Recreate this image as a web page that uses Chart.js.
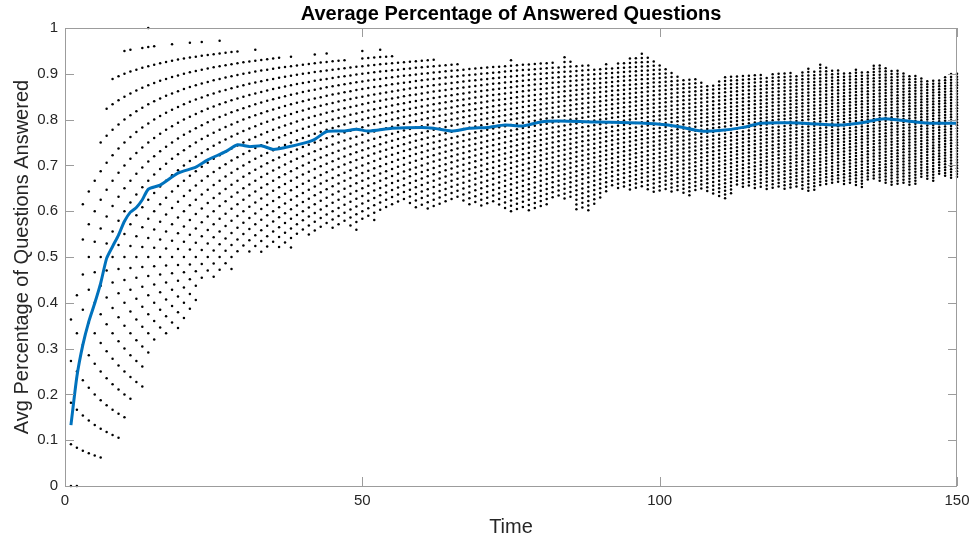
<!DOCTYPE html>
<html>
<head>
<meta charset="utf-8">
<title>Average Percentage of Answered Questions</title>
<script src="https://cdn.jsdelivr.net/npm/chart.js@4.4.0/dist/chart.umd.min.js"></script>
<style>
	html, body { margin: 0; padding: 0; background: #ffffff; }
	#answeredcanvas { display: block; }
</style>
</head>
<body>
<canvas id="answeredcanvas" width="976" height="542"></canvas>
<script>
// lowest and highest share answered at each time step t = 1..150
var lowEdge = [
	0, 0, 0.077, 0.071, 0.067, 0.0625, 0.118, 0.111, 0.105, 0.15,
	0.19, 0.227, 0.217, 0.292, 0.32, 0.346, 0.35, 0.357, 0.36, 0.366,
	0.39, 0.42, 0.456, 0.46, 0.47, 0.48, 0.486, 0.475, 0.5, 0.515,
	0.51, 0.52, 0.52, 0.523, 0.53, 0.523, 0.53, 0.521, 0.552, 0.55,
	0.555, 0.557, 0.56, 0.565, 0.565, 0.575, 0.581, 0.57, 0.559, 0.582,
	0.59, 0.581, 0.6, 0.61, 0.62, 0.625, 0.628, 0.62, 0.613, 0.613,
	0.605, 0.615, 0.62, 0.625, 0.627, 0.625, 0.62, 0.615, 0.619, 0.611,
	0.615, 0.617, 0.61, 0.605, 0.599, 0.605, 0.61, 0.607, 0.61, 0.607,
	0.615, 0.625, 0.63, 0.628, 0.632, 0.608, 0.605, 0.601, 0.62, 0.632,
	0.643, 0.657, 0.652, 0.652, 0.648, 0.65, 0.652, 0.648, 0.64, 0.643,
	0.645, 0.646, 0.646, 0.643, 0.639, 0.646, 0.646, 0.643, 0.638, 0.635,
	0.628, 0.639, 0.657, 0.655, 0.652, 0.65, 0.652, 0.65, 0.652, 0.652,
	0.652, 0.655, 0.652, 0.65, 0.648, 0.65, 0.655, 0.657, 0.66, 0.662,
	0.66, 0.662, 0.66, 0.656, 0.67, 0.668, 0.665, 0.663, 0.659, 0.662,
	0.66, 0.66, 0.661, 0.675, 0.672, 0.667, 0.68, 0.677, 0.672, 0.676
];
var highEdge = [
	0.364, 0.417, 0.615, 0.643, 0.667, 0.75, 0.824, 0.889, 0.895, 0.95,
	0.952, 0.91, 0.957, 1.0, 0.96, 0.92, 0.93, 0.964, 0.93, 0.93,
	0.968, 0.94, 0.97, 0.94, 0.94, 0.972, 0.945, 0.945, 0.945, 0.925,
	0.925, 0.953, 0.925, 0.925, 0.925, 0.936, 0.92, 0.94, 0.92, 0.92,
	0.92, 0.945, 0.93, 0.945, 0.92, 0.932, 0.932, 0.92, 0.92, 0.95,
	0.936, 0.936, 0.953, 0.941, 0.941, 0.927, 0.927, 0.925, 0.929, 0.929,
	0.932, 0.932, 0.923, 0.92, 0.92, 0.918, 0.912, 0.908, 0.908, 0.916,
	0.916, 0.916, 0.916, 0.92, 0.93, 0.923, 0.923, 0.923, 0.916, 0.923,
	0.918, 0.923, 0.916, 0.937, 0.927, 0.918, 0.916, 0.92, 0.912, 0.912,
	0.916, 0.916, 0.923, 0.923, 0.936, 0.936, 0.945, 0.936, 0.929, 0.919,
	0.912, 0.905, 0.895, 0.89, 0.886, 0.885, 0.881, 0.876, 0.876, 0.885,
	0.894, 0.897, 0.897, 0.898, 0.898, 0.898, 0.898, 0.894, 0.9, 0.901,
	0.897, 0.901, 0.897, 0.904, 0.908, 0.904, 0.921, 0.914, 0.908, 0.904,
	0.901, 0.901, 0.909, 0.904, 0.904, 0.921, 0.921, 0.914, 0.908, 0.906,
	0.901, 0.898, 0.895, 0.89, 0.887, 0.882, 0.887, 0.89, 0.899, 0.899
];

// average share answered
var avgTime = [1, 2, 3, 4, 5, 6, 7, 8, 9, 10, 11, 12, 13, 14, 16, 19, 22, 24, 27, 29,
	31, 33, 35, 37, 40, 42, 44, 47, 49, 51, 55, 60, 62, 65, 68, 71, 74, 77, 80, 83,
	89, 95, 100, 103, 107, 110, 114, 117, 122, 130, 134, 137, 139, 143, 146, 150];
var avgValue = [0.133, 0.239, 0.308, 0.359, 0.399, 0.443, 0.497, 0.523, 0.548, 0.578, 0.598, 0.608, 0.625, 0.648, 0.657, 0.683, 0.696, 0.712, 0.73, 0.745,
	0.741, 0.743, 0.735, 0.739, 0.748, 0.757, 0.774, 0.775, 0.779, 0.775, 0.781, 0.783, 0.781, 0.775, 0.781, 0.783, 0.788, 0.786, 0.795, 0.797,
	0.795, 0.793, 0.79, 0.785, 0.775, 0.776, 0.783, 0.792, 0.793, 0.788, 0.793, 0.801, 0.801, 0.795, 0.792, 0.792];

var xTicks = [0, 50, 100, 150];
var yTicks = [0, 0.1, 0.2, 0.3, 0.4, 0.5, 0.6, 0.7, 0.8, 0.9, 1];

// every score k out of (t + 10) questions between the lowest and highest share
var dotPoints = [];
for (var t = 1; t <= lowEdge.length; t++) {
	var asked = t + 10;
	var lo = Math.round(lowEdge[t - 1] * asked);
	var hi = Math.round(highEdge[t - 1] * asked);
	for (var k = lo; k <= hi; k++) {
		dotPoints.push({ x: t, y: k / asked });
	}
}

var avgPoints = avgTime.map(function(tm, i) { return { x: tm, y: avgValue[i] }; });

var axisFont = '"Liberation Sans", Arial, Helvetica, sans-serif';

// box round the axes with inward ticks on all four sides, plus the title
var frameLines = {
	id: 'frameLines',
	afterDraw: function(chart) {
		var ctx = chart.ctx;
		var a = chart.chartArea;
		var xs = chart.scales.x, ys = chart.scales.y;
		var len = 9;
		ctx.save();
		ctx.strokeStyle = '#9c9c9c';
		ctx.lineWidth = 1;
		ctx.strokeRect(a.left + 0.5, a.top + 0.5, a.right - a.left - 1, a.bottom - a.top);
		ctx.beginPath();
		xTicks.forEach(function(v) {
			var px = Math.round(xs.getPixelForValue(v)) + 0.5;
			ctx.moveTo(px, a.bottom); ctx.lineTo(px, a.bottom - len);
			ctx.moveTo(px, a.top); ctx.lineTo(px, a.top + len);
		});
		yTicks.forEach(function(v) {
			var py = Math.round(ys.getPixelForValue(v)) + 0.5;
			ctx.moveTo(a.left, py); ctx.lineTo(a.left + len, py);
			ctx.moveTo(a.right, py); ctx.lineTo(a.right - len, py);
		});
		ctx.stroke();
		ctx.fillStyle = '#000000';
		ctx.font = 'bold 20px ' + axisFont;
		ctx.textAlign = 'center';
		ctx.textBaseline = 'middle';
		ctx.fillText('Average Percentage of Answered Questions', (a.left + a.right) / 2, 14);
		ctx.restore();
	}
};

window.onload = function() {
	var ctx = document.getElementById('answeredcanvas').getContext('2d');
	window.answeredChart = new Chart(ctx, {
		type: 'scatter',
		data: {
			datasets: [
				{
					label: 'Average',
					data: avgPoints,
					showLine: true,
					borderColor: '#0072BD',
					backgroundColor: '#0072BD',
					borderWidth: 3,
					pointRadius: 0,
					tension: 0.2,
					clip: 4
				},
				{
					label: 'Answered',
					data: dotPoints,
					pointRadius: 1.25,
					pointBorderWidth: 0,
					backgroundColor: '#000000',
					borderColor: '#000000',
					clip: 4
				}
			]
		},
		options: {
			responsive: false,
			animation: false,
			layout: { padding: { left: 0, right: 19, top: 28, bottom: 0 } },
			plugins: {
				legend: { display: false },
				title: { display: false },
				tooltip: { enabled: false }
			},
			scales: {
				x: {
					type: 'linear',
					min: 0,
					max: 150,
					afterFit: function(scale) { scale.height = 56; },
					afterBuildTicks: function(scale) {
						scale.ticks = xTicks.map(function(v) { return { value: v }; });
					},
					grid: { display: false, drawTicks: false },
					border: { display: false },
					ticks: {
						color: '#262626',
						padding: 6,
						maxRotation: 0,
						font: { family: axisFont, size: 15 }
					},
					title: {
						display: true,
						text: 'Time',
						color: '#262626',
						padding: { top: 0, bottom: 3 },
						font: { family: axisFont, size: 20 }
					}
				},
				y: {
					type: 'linear',
					min: 0,
					max: 1,
					afterFit: function(scale) { scale.width = 65; },
					afterBuildTicks: function(scale) {
						scale.ticks = yTicks.map(function(v) { return { value: v }; });
					},
					grid: { display: false, drawTicks: false },
					border: { display: false },
					ticks: {
						color: '#262626',
						padding: 7,
						font: { family: axisFont, size: 15 },
						callback: function(v) { return String(+v.toFixed(1)); }
					},
					title: {
						display: true,
						text: 'Avg Percentage of Questions Answered',
						color: '#262626',
						padding: { top: 10, bottom: 0 },
						font: { family: axisFont, size: 20 }
					}
				}
			}
		},
		plugins: [frameLines]
	});
};
</script>
</body>
</html>
